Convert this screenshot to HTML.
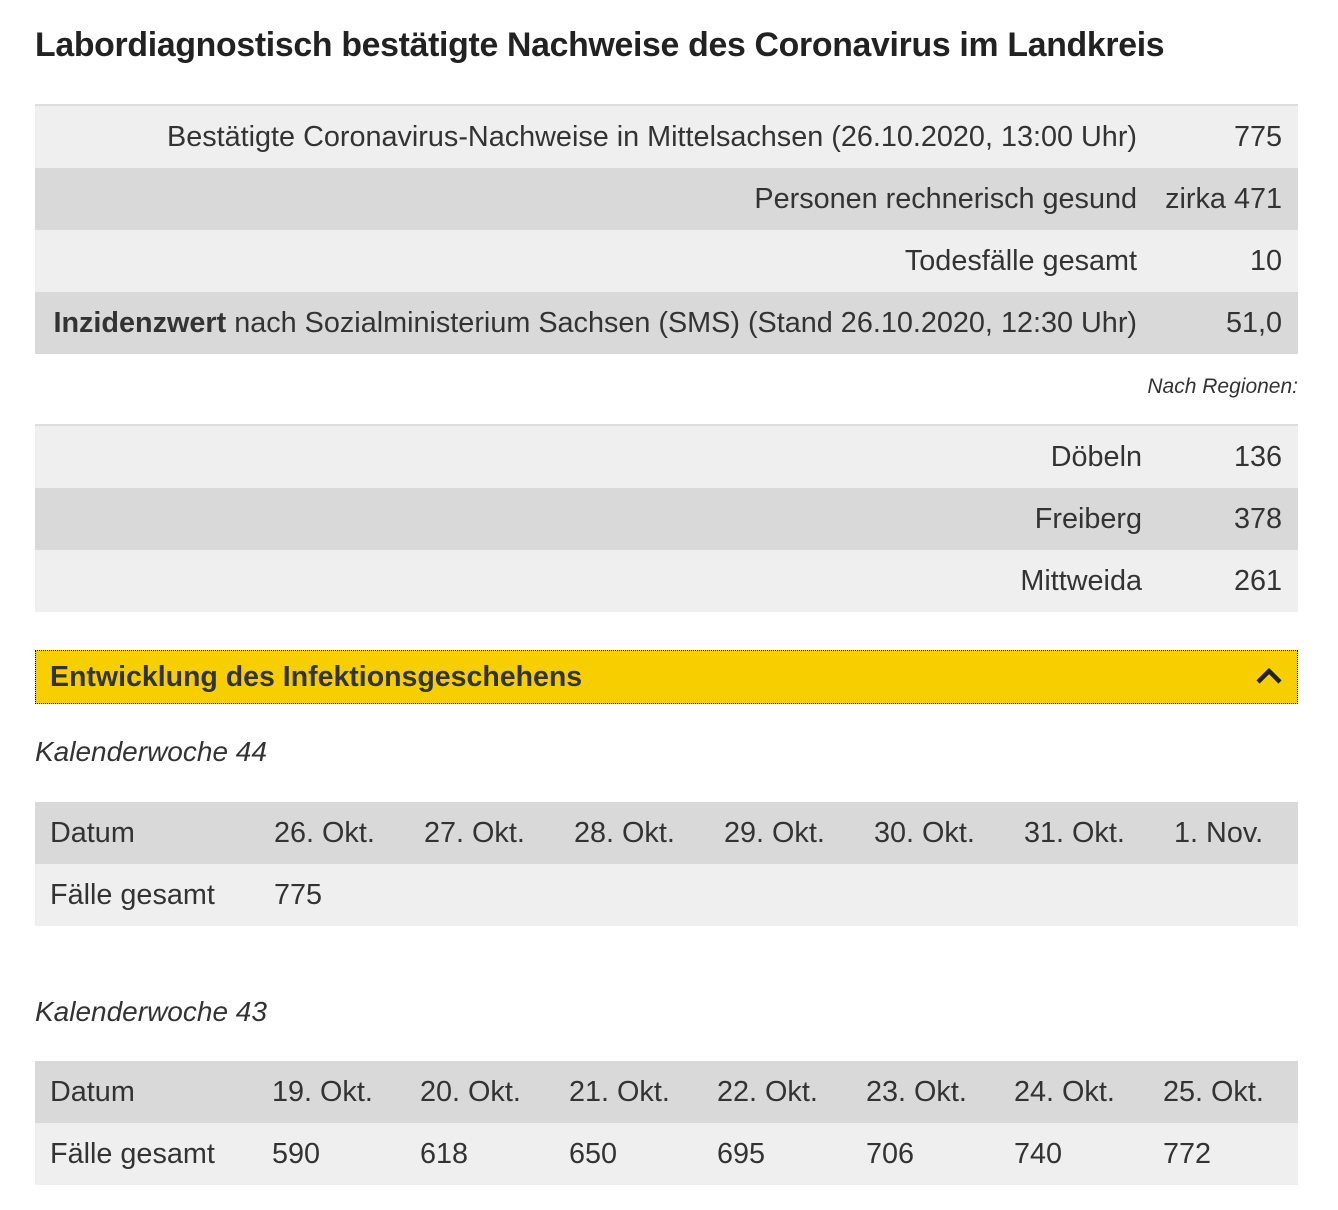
<!DOCTYPE html>
<html><head><meta charset="utf-8"><style>
body{margin:0;width:1338px;height:1210px;background:#fff;font-family:"Liberation Sans",sans-serif;color:#333;position:relative;overflow:hidden}
h1{position:absolute;left:35px;top:26px;margin:0;font-size:33.8px;font-weight:bold;color:#222;letter-spacing:-0.3px}
.t{position:absolute;left:35px;width:1263px;border-collapse:collapse;font-size:28.8px}
.t td{padding:0;height:62px;white-space:nowrap}
.l{background:#efefef}.d{background:#d9d9d9}
.r{text-align:right}
.note{position:absolute;right:40px;top:375px;font-size:21px;font-style:italic}
.bar{position:absolute;left:35px;top:650px;width:1261px;height:52px;background:#f7cf00;border:1px dotted #000}
.bar span{position:absolute;left:14px;top:10px;font-size:28.5px;font-weight:bold;color:#333}
.kw{position:absolute;left:35px;font-size:28px;font-style:italic}
.w td{padding-left:15px}
</style></head><body>
<h1>Labordiagnostisch bestätigte Nachweise des Coronavirus im Landkreis</h1>
<table class="t" style="top:104px;border-top:2px solid #ddd">
<tr class="l"><td class="r">Bestätigte Coronavirus-Nachweise in Mittelsachsen (26.10.2020, 13:00 Uhr)</td><td class="r" style="width:145px;padding-right:16px">775</td></tr>
<tr class="d"><td class="r">Personen rechnerisch gesund</td><td class="r" style="padding-right:16px">zirka 471</td></tr>
<tr class="l"><td class="r">Todesfälle gesamt</td><td class="r" style="padding-right:16px">10</td></tr>
<tr class="d"><td class="r"><b>Inzidenzwert</b> nach Sozialministerium Sachsen (SMS) (Stand 26.10.2020, 12:30 Uhr)</td><td class="r" style="padding-right:16px">51,0</td></tr>
</table>
<div class="note">Nach Regionen:</div>
<table class="t" style="top:424px;border-top:2px solid #ddd">
<tr class="l"><td class="r">Döbeln</td><td class="r" style="width:140px;padding-right:16px">136</td></tr>
<tr class="d"><td class="r">Freiberg</td><td class="r" style="padding-right:16px">378</td></tr>
<tr class="l"><td class="r">Mittweida</td><td class="r" style="padding-right:16px">261</td></tr>
</table>
<div class="bar"><span>Entwicklung des Infektionsgeschehens</span>
<svg style="position:absolute;left:1219px;top:15px" width="28" height="20"><polyline points="3,16 14,5 25,16" fill="none" stroke="#222" stroke-width="4.5"/></svg></div>
<div class="kw" style="top:736px">Kalenderwoche 44</div>
<table class="t w" style="top:802px">
<tr class="d"><td style="width:209px">Datum</td><td style="width:135px">26. Okt.</td><td style="width:135px">27. Okt.</td><td style="width:135px">28. Okt.</td><td style="width:135px">29. Okt.</td><td style="width:135px">30. Okt.</td><td style="width:135px">31. Okt.</td><td>1. Nov.</td></tr>
<tr class="l"><td>Fälle gesamt</td><td>775</td><td></td><td></td><td></td><td></td><td></td><td></td></tr>
</table>
<div class="kw" style="top:996px">Kalenderwoche 43</div>
<table class="t w" style="top:1061px">
<tr class="d"><td style="width:207px">Datum</td><td style="width:133px">19. Okt.</td><td style="width:134px">20. Okt.</td><td style="width:133px">21. Okt.</td><td style="width:134px">22. Okt.</td><td style="width:133px">23. Okt.</td><td style="width:134px">24. Okt.</td><td>25. Okt.</td></tr>
<tr class="l"><td>Fälle gesamt</td><td>590</td><td>618</td><td>650</td><td>695</td><td>706</td><td>740</td><td>772</td></tr>
</table>
</body></html>
